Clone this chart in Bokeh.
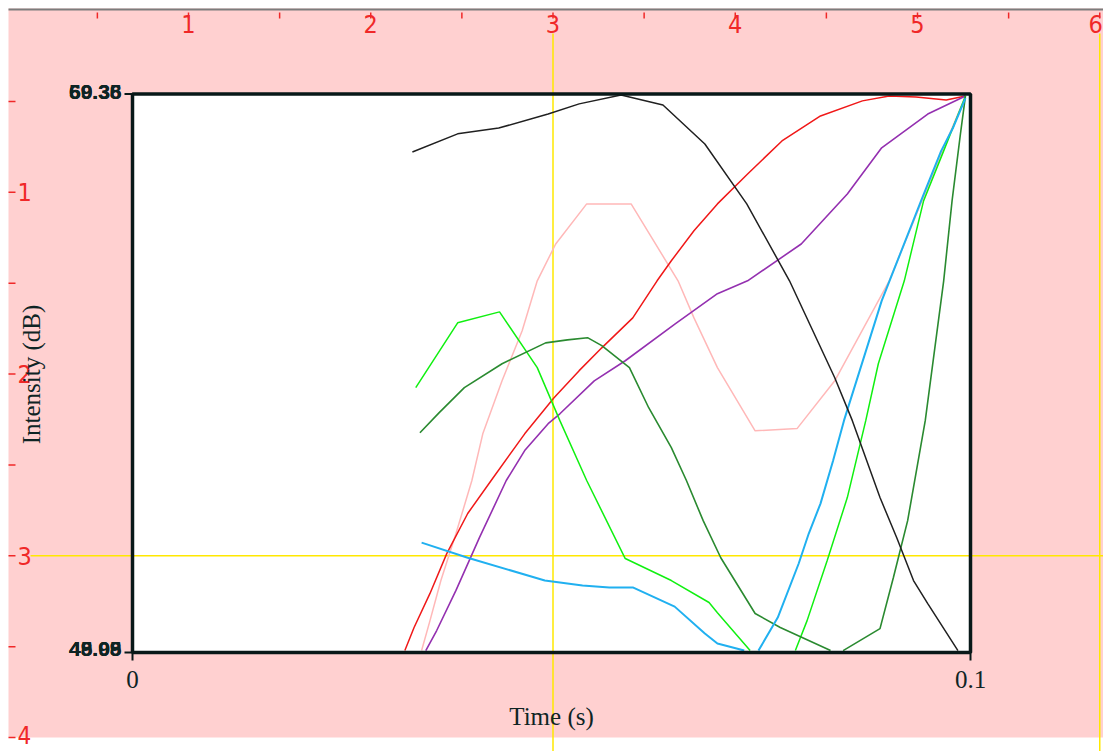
import math
from bokeh.plotting import figure
from bokeh.models import Range1d
from bokeh.core.properties import value
from bokeh.embed import file_html
from bokeh.resources import INLINE

nan = float("nan")

# ---------------- data ----------------
TOP_TICKS = [1, 2, 3, 4, 5, 6]
TOP_TICK_LABELS = ["1", "2", "3", "4", "5", "6"]
LEFT_TICKS = [1, 2, 3, 4]
LEFT_TICK_LABELS = ["1", "2", "3", "4"]
TOP_MINOR = [0.5, 1, 1.5, 2, 2.5, 3, 3.5, 4, 4.5, 5, 5.5, 6]
LEFT_MINOR = [0.5, 1, 1.5, 2, 2.5, 3, 3.5, 4]
CURSOR_X = [3.0, 6.0]
CURSOR_Y = [3.0]

TIME_TICKS = [0.0, 0.1]
TIME_TICK_LABELS = ["0", "0.1"]
DB_MIN, DB_MAX = 49.05, 69.38
DB_TOP_LABELS = ["69.38", "60.36", "59.35"]
DB_BOTTOM_LABELS = ["49.05", "45.99", "48.08"]

black_t = [0.0334, 0.0388, 0.0437, 0.0496, 0.0533, 0.0583, 0.0633, 0.0683, 0.0733, 0.0784,
           0.0838, 0.0859, 0.0892, 0.0912, 0.0932, 0.0949, 0.0985]
black_db = [67.27, 67.93, 68.14, 68.65, 69.02, 69.34, 68.98, 67.56, 65.38, 62.58,
            59.05, 57.49, 54.69, 53.23, 51.67, 50.83, 49.12]

red_t = [0.0325, 0.0336, 0.0355, 0.0375, 0.0400, 0.0428, 0.0468, 0.0503, 0.0533, 0.0560,
         0.0597, 0.0626, 0.0643, 0.0670, 0.0698, 0.0734, 0.0775, 0.0821, 0.0871, 0.0903,
         0.0935, 0.0971, 0.0994]
red_db = [49.12, 49.96, 51.20, 52.65, 54.11, 55.31, 57.01, 58.32, 59.31, 60.14,
          61.23, 62.58, 63.31, 64.40, 65.38, 66.47, 67.67, 68.58, 69.13, 69.31,
          69.27, 69.16, 69.31]

pink_t = [0.0345, 0.0355, 0.0368, 0.0386, 0.0405, 0.0418, 0.0441, 0.0465, 0.0483, 0.0505,
          0.0542, 0.0595, 0.0651, 0.0670, 0.0698, 0.0743, 0.0793, 0.0838, 0.0903, 0.0963,
          0.0994]
pink_db = [49.12, 50.21, 51.67, 53.38, 55.31, 57.01, 58.94, 60.76, 62.58, 63.92,
           65.38, 65.38, 62.58, 61.23, 59.42, 57.12, 57.20, 58.94, 62.58, 67.05,
           69.31]

purple_t = [0.0350, 0.0363, 0.0386, 0.0414, 0.0446, 0.0468, 0.0496, 0.0510, 0.0551, 0.0588,
            0.0648, 0.0698, 0.0734, 0.0798, 0.0853, 0.0894, 0.0949, 0.0994]
purple_db = [49.12, 49.85, 51.31, 53.23, 55.31, 56.40, 57.38, 57.74, 58.94, 59.67,
             61.02, 62.11, 62.58, 63.92, 65.74, 67.42, 68.65, 69.31]

lime_t = [0.0338, 0.0388, 0.0438, 0.0483, 0.0510, 0.0542, 0.0588, 0.0643, 0.0688, 0.0698,
          0.0737, nan, 0.0791, 0.0805, 0.0829, 0.0853, 0.0875, 0.0890, 0.0921, 0.0944,
          0.0968, 0.0994]
lime_db = [58.69, 61.05, 61.45, 59.42, 57.49, 55.31, 52.47, 51.67, 50.87, 50.50,
           49.12, nan, 49.12, 50.21, 52.40, 54.69, 57.49, 59.56, 62.58, 65.49,
           67.31, 69.31]

dkgreen_t = [0.0343, 0.0366, 0.0396, 0.0441, 0.0493, 0.0519, 0.0543, 0.0560, 0.0593, 0.0616,
             0.0643, 0.0661, 0.0681, 0.0702, 0.0743, 0.0773, 0.0833, nan, 0.0848, 0.0892,
             0.0908, 0.0925, 0.0946, 0.0968, 0.0978, 0.0988, 0.0994]
dkgreen_db = [57.05, 57.78, 58.69, 59.56, 60.32, 60.43, 60.51, 60.22, 59.42, 57.96,
              56.51, 55.31, 53.85, 52.50, 50.47, 49.96, 49.12, nan, 49.12, 49.92,
              51.78, 53.85, 57.49, 62.58, 65.49, 67.93, 69.31]

cyan_t = [0.0345, 0.0400, 0.0492, 0.0537, 0.0569, 0.0597, 0.0647, 0.0683, 0.0698, 0.0730,
          nan, 0.0747, 0.0770, 0.0795, 0.0807, 0.0821, 0.0836, 0.0849, 0.0894, 0.0941,
          0.0965, 0.0979, 0.0994]
cyan_db = [53.05, 52.50, 51.67, 51.49, 51.42, 51.42, 50.72, 49.74, 49.38, 49.12,
           nan, 49.12, 50.32, 52.29, 53.38, 54.47, 56.03, 57.49, 61.85, 65.49,
           67.31, 68.14, 69.23]

SERIES = [
    (pink_t, pink_db, "#FFB8B8", 1.5),
    (red_t, red_db, "#F01818", 1.5),
    (purple_t, purple_db, "#9430B0", 1.6),
    (lime_t, lime_db, "#10F010", 1.5),
    (dkgreen_t, dkgreen_db, "#2A8A30", 1.6),
    (cyan_t, cyan_db, "#20B0F0", 2.0),
    (black_t, black_db, "#202020", 1.5),
]

# ---------------- layout (page pixels) ----------------
W, H = 1103, 751
PX0, PY0 = 0, 0
# outer ruler: page_x = OX0 + OXS*u ; page_y = OY0 + OYS*v
OX0, OXS = 5.75, 182.25
OY0, OYS = 10.0, 181.75
# inner box
BOX_L, BOX_R, BOX_T, BOX_B = 132.0, 970.0, 93.5, 652.0

def ux(px):
    return (px - OX0) / OXS

def vy(py):
    return (py - OY0) / OYS

t_per_px = (TIME_TICKS[1] - TIME_TICKS[0]) / (BOX_R - BOX_L)
db_per_px = (DB_MAX - DB_MIN) / (BOX_B - BOX_T)

def tx(px):
    return (px - BOX_L) * t_per_px

def dby(py):
    return DB_MIN + (BOX_B - py) * db_per_px

p = figure(width=W, height=H, output_backend="svg", toolbar_location=None,
           x_range=Range1d(ux(PX0), ux(PX0 + W)),
           y_range=Range1d(vy(PY0 + H), vy(PY0)),
           x_axis_location=None, y_axis_location=None,
           min_border=0, title=None)
p.outline_line_color = None
p.background_fill_color = "white"
p.border_fill_color = "white"
p.xgrid.visible = False
p.ygrid.visible = False
p.extra_x_ranges = {"time": Range1d(tx(PX0), tx(PX0 + W))}
p.extra_y_ranges = {"db": Range1d(dby(PY0 + H), dby(PY0))}

PINK = "#FFD0D0"
RED = "#F02828"
INK = "#0E2424"
RULER_FONT = value("Liberation Sans Narrow, DejaVu Sans Condensed, Liberation Sans")

# pink background area
p.quad(left=[ux(8)], right=[ux(PX0 + W)], top=[vy(8)], bottom=[vy(737)],
       fill_color=PINK, line_color=None)
p.segment(x0=[ux(8)], x1=[ux(PX0 + W)], y0=[vy(9)], y1=[vy(9)],
          line_color="#7C7C7C", line_width=2)

# red top ruler
p.segment(x0=TOP_MINOR, x1=TOP_MINOR, y0=[vy(12)] * len(TOP_MINOR), y1=[vy(18)] * len(TOP_MINOR),
          line_color=RED, line_width=1.5)
p.text(x=TOP_TICKS[:-1], y=[vy(23)] * (len(TOP_TICKS) - 1), text=TOP_TICK_LABELS[:-1],
       text_font=RULER_FONT, text_font_size="25px",
       text_color=RED, text_align="center", text_baseline="middle")
p.text(x=TOP_TICKS[-1:], y=[vy(23)], text=TOP_TICK_LABELS[-1:],
       text_font=RULER_FONT, text_font_size="25px",
       text_color=RED, text_align="right", text_baseline="middle", x_offset=3)
# red left ruler
p.segment(x0=[ux(8)] * len(LEFT_MINOR), x1=[ux(15)] * len(LEFT_MINOR), y0=LEFT_MINOR, y1=LEFT_MINOR,
          line_color=RED, line_width=1.5)
p.text(x=[ux(17)] * (len(LEFT_TICKS) - 1), y=LEFT_TICKS[:-1], text=LEFT_TICK_LABELS[:-1],
       text_font=RULER_FONT, text_font_size="25px",
       text_color=RED, text_align="left", text_baseline="middle")
p.text(x=[ux(17)], y=LEFT_TICKS[-1:], text=LEFT_TICK_LABELS[-1:],
       text_font=RULER_FONT, text_font_size="24px",
       text_color=RED, text_align="left", text_baseline="middle", y_offset=-3)

# inner white box
p.quad(left=[TIME_TICKS[0]], right=[TIME_TICKS[1]], bottom=[DB_MIN], top=[DB_MAX],
       fill_color="white", line_color=None, x_range_name="time", y_range_name="db")

# yellow cursor lines
YEL = "#FFE800"
p.segment(x0=CURSOR_X, x1=CURSOR_X, y0=[vy(33)] * len(CURSOR_X), y1=[vy(PY0 + H)] * len(CURSOR_X),
          line_color=YEL, line_width=1.5)
p.segment(x0=[ux(30)] * len(CURSOR_Y), x1=[ux(PX0 + W)] * len(CURSOR_Y), y0=CURSOR_Y, y1=CURSOR_Y,
          line_color=YEL, line_width=1.5)

# curves
for t, d, c, w in SERIES:
    p.line(x=t, y=d, line_color=c, line_width=w, x_range_name="time", y_range_name="db")

# box border
p.quad(left=[TIME_TICKS[0]], right=[TIME_TICKS[1]], bottom=[DB_MIN], top=[DB_MAX],
       fill_color=None, line_color="#081818", line_width=3.5,
       x_range_name="time", y_range_name="db")
tick_t = 8 * t_per_px
tick_db = 8 * db_per_px
p.segment(x0=[-tick_t, -tick_t], x1=[0, 0], y0=[DB_MAX, DB_MIN], y1=[DB_MAX, DB_MIN],
          line_color="#081818", line_width=2, x_range_name="time", y_range_name="db")
p.segment(x0=TIME_TICKS, x1=TIME_TICKS, y0=[DB_MIN] * 2, y1=[DB_MIN - tick_db] * 2,
          line_color="#081818", line_width=2, x_range_name="time", y_range_name="db")

# dB labels (overprinted)
for lab in DB_TOP_LABELS:
    p.text(x=[tx(121)], y=[DB_MAX], text=[lab], x_range_name="time", y_range_name="db",
           text_font=value("Liberation Sans"), text_font_style="bold", text_font_size="21px",
           text_color=INK, text_align="right", text_baseline="middle", y_offset=-2)
for lab in DB_BOTTOM_LABELS:
    p.text(x=[tx(121)], y=[DB_MIN], text=[lab], x_range_name="time", y_range_name="db",
           text_font=value("Liberation Sans"), text_font_style="bold", text_font_size="21px",
           text_color=INK, text_align="right", text_baseline="middle", y_offset=-4)

# time tick labels
p.text(x=TIME_TICKS, y=[vy(679)] * 2, text=TIME_TICK_LABELS, x_range_name="time",
       text_font=value("Liberation Serif"), text_font_size="25px",
       text_color=INK, text_align="center", text_baseline="middle")
p.text(x=[(TIME_TICKS[0] + TIME_TICKS[1]) / 2], y=[vy(716)], text=["Time (s)"], x_range_name="time",
       text_font=value("Liberation Serif"), text_font_size="25px",
       text_color=INK, text_align="center", text_baseline="middle")
p.text(x=[ux(31)], y=[vy(374)], text=["Intensity (dB)"], angle=math.pi / 2,
       text_font=value("Liberation Serif"), text_font_size="25px",
       text_color=INK, text_align="center", text_baseline="middle")

open("out.html", "w").write(file_html(p, INLINE))
